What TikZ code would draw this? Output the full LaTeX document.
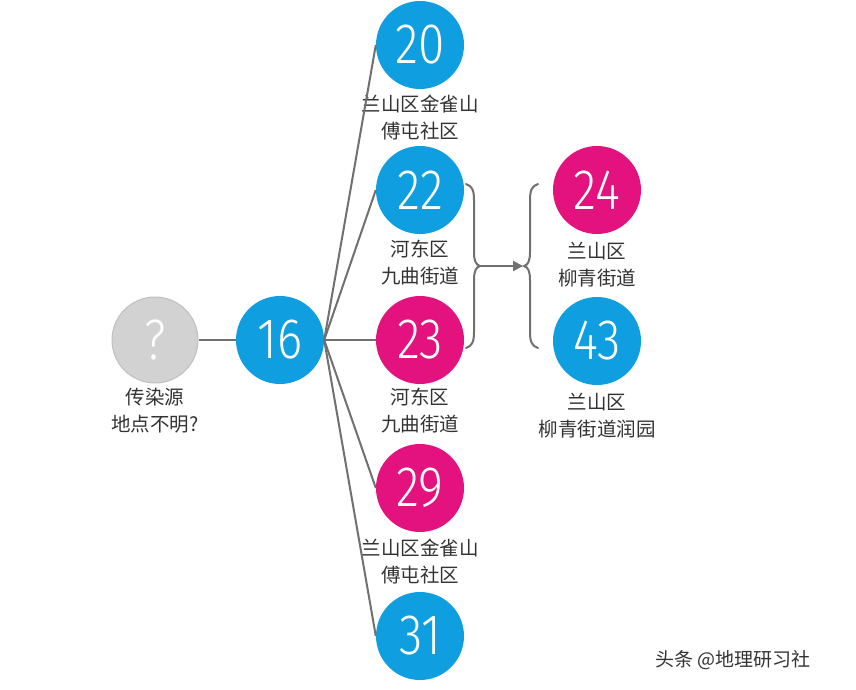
\documentclass[tikz,border=0pt]{standalone}
\usepackage{fontspec}
\setmainfont{Noto Sans CJK SC}
\newfontfamily\cjk{Noto Sans CJK SC}
\newfontfamily\numfont[FakeStretch=0.84]{Fira Sans Light}
\usetikzlibrary{arrows.meta}
\definecolor{cblue}{HTML}{0F9FE0}
\definecolor{cmag}{HTML}{E3127E}
\definecolor{cgray}{HTML}{D2D2D2}
\definecolor{lgray}{HTML}{707070}
\definecolor{tgray}{HTML}{333333}
\tikzset{
  circ/.style={circle, minimum size=88pt, inner sep=0pt, text=white, font=\numfont\fontsize{57}{57}\selectfont},
  bluec/.style={circ, fill=cblue},
  magc/.style={circ, fill=cmag},
  grayc/.style={circ, fill=cgray, draw=black!25, line width=1pt, minimum size=86pt},
  lbl/.style={align=center, text=tgray, font=\cjk\fontsize{19.5}{27}\selectfont, inner sep=0pt},
  conn/.style={draw=lgray, line width=2pt},
  bracestyle/.style={draw=lgray, line width=2pt, line cap=round}
}
\begin{document}
\begin{tikzpicture}[x=1pt,y=-1pt]
\useasboundingbox[fill=white] (0,0) rectangle (856,689);
% nodes
\node[grayc] (q) at (155,340) {?};
\node[bluec] (n16) at (280,340) {16};
\node[bluec] (n20) at (420,45) {20};
\node[bluec] (n22) at (420,190) {22};
\node[magc] (n23) at (420,340) {23};
\node[magc] (n29) at (420,488) {29};
\node[bluec] (n31) at (420,636) {31};
\node[magc] (n24) at (597,190) {24};
\node[bluec] (n43) at (597,341) {43};
% labels
\node[lbl] (lq) at (155,411) {传染源\\地点不明?};
\node[lbl] (l20) at (420,117) {兰山区金雀山\\傅屯社区};
\node[lbl] (l22) at (420,263) {河东区\\九曲街道};
\node[lbl] (l23) at (420,411) {河东区\\九曲街道};
\node[lbl] (l29) at (420,561) {兰山区金雀山\\傅屯社区};
\node[lbl] (l24) at (597,265) {兰山区\\柳青街道};
\node[lbl] (l43) at (597,416) {兰山区\\柳青街道润园};
% connectors
\draw[conn] (q.east) -- (n16.west);
\draw[conn] (n16.east) -- (n20.west);
\draw[conn] (n16.east) -- (n22.west);
\draw[conn] (n16.east) -- (n23.west);
\draw[conn] (n16.east) -- (n29.west);
\draw[conn] (n16.east) -- (n31.west);
% braces
\draw[bracestyle] (466,184) .. controls (472,186) and (474,190) .. (474,200) -- (474,252)
  .. controls (474,261) and (476,265) .. (480,266)
  .. controls (476,267) and (474,271) .. (474,280) -- (474,332)
  .. controls (474,342) and (472,346) .. (466,348);
\draw[bracestyle] (538,184) .. controls (532,186) and (530,190) .. (530,200) -- (530,252)
  .. controls (530,261) and (528,265) .. (524,266)
  .. controls (528,267) and (530,271) .. (530,280) -- (530,332)
  .. controls (530,342) and (532,346) .. (538,348);
\coordinate (ab) at (480,266);
\coordinate (ae) at (523,266);
\draw[conn, -{Triangle[length=10pt,width=10pt]}] (ab) -- (ae);
% watermark
\node[text=black!80, font=\cjk\fontsize{19}{19}\selectfont, anchor=west, inner sep=0pt] (wm2) at (655,660) {头条 @地理研习社};
\end{tikzpicture}
\end{document}
